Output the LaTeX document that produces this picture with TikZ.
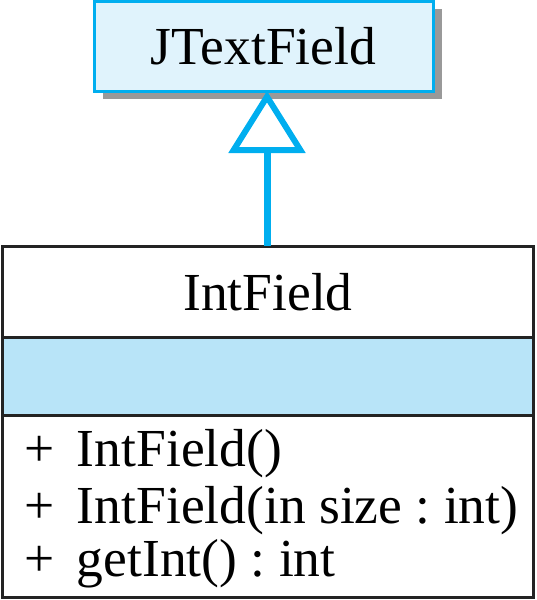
\documentclass[tikz,border=0pt]{standalone}
\usepackage{fontspec}
\setmainfont{Liberation Serif}
\usetikzlibrary{arrows.meta,shadows}
\definecolor{umlcyan}{RGB}{0,174,239}
\definecolor{classfill}{RGB}{224,243,252}
\definecolor{bandfill}{RGB}{184,228,248}
\definecolor{shadowgray}{RGB}{153,153,153}
\definecolor{edgegray}{RGB}{35,35,35}
\tikzset{
  umltext/.style={font=\fontsize{53.5}{56}\selectfont\frenchspacing, inner sep=0pt, outer sep=0pt},
  superbox/.style={draw=umlcyan, fill=classfill, line width=3pt, minimum width=339pt,
    minimum height=90pt, inner sep=0pt, outer sep=0pt,
    drop shadow={shadow xshift=9pt, shadow yshift=-8pt, fill=shadowgray, opacity=1}},
  compartment/.style={draw=edgegray, line width=3pt, minimum width=531pt, inner sep=0pt, outer sep=0pt},
  inherit/.style={draw=umlcyan, line width=7pt,
    -{Triangle[open, length=62pt, width=76pt, line width=6pt]}},
}
\begin{document}
\begin{tikzpicture}[x=1pt, y=-1pt]
  \useasboundingbox (0,0) rectangle (536,600);
  % superclass
  \node[superbox] (jtf) at (263.5,46) {};
  \node[umltext, anchor=base] (jtfname) at (263.5,64) {JTextField};
  % subclass compartments
  \node[compartment, fill=white, minimum height=91pt] (ifname) at (267.5,291.5) {};
  \node[compartment, fill=bandfill, minimum height=78pt] (ifattr) at (267.5,376.5) {};
  \node[compartment, fill=white, minimum height=182pt] (ifops) at (267.5,506) {};
  \node[umltext, anchor=base] (ifnametext) at (268,310) {IntField};
  \node[umltext, anchor=base west] (op1) at (24,466) {\makebox[53pt][l]{+}IntField()};
  \node[umltext, anchor=base west] (op2) at (24,523) {\makebox[53pt][l]{+}IntField(in size : int)};
  \node[umltext, anchor=base west] (op3) at (24,576) {\makebox[53pt][l]{+}getInt() : int};
  % generalization
  \draw[inherit] (ifname.north -| 267,0) -- (jtf.south -| 267,0);
\end{tikzpicture}
\end{document}
